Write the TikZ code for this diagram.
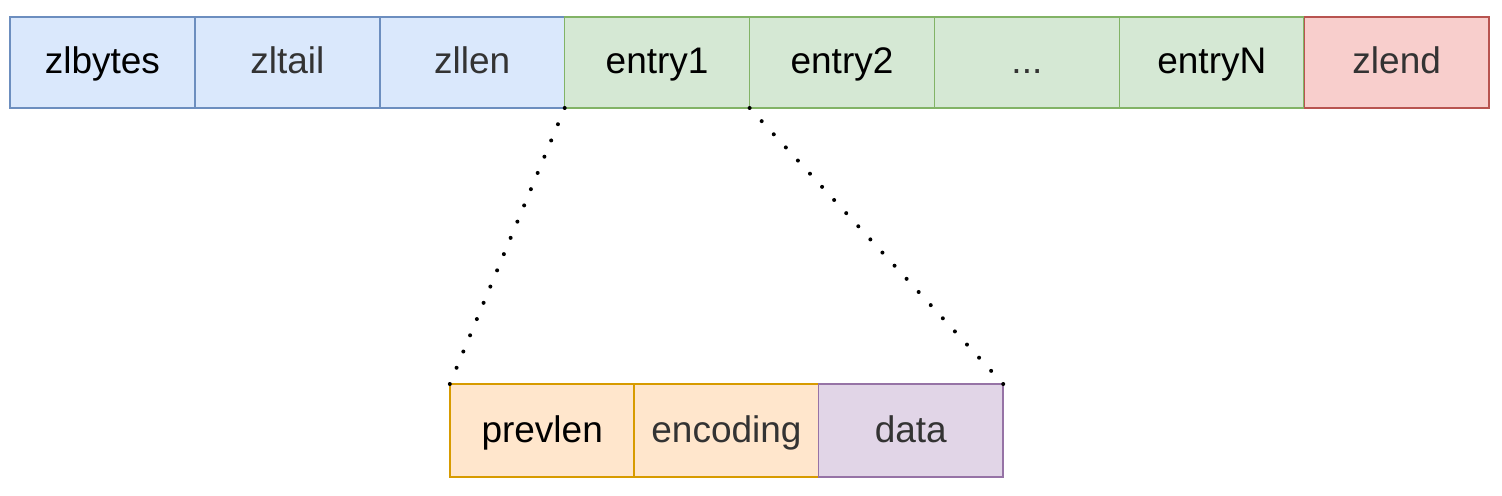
\documentclass[tikz,border=0pt]{standalone}
\usepackage{fontspec}
\setmainfont{Liberation Sans}
\usepackage{tikz}
\usetikzlibrary{calc}
\definecolor{blueF}{HTML}{DAE8FC}
\definecolor{blueD}{HTML}{6C8EBF}
\definecolor{greenF}{HTML}{D5E8D4}
\definecolor{greenD}{HTML}{82B366}
\definecolor{redF}{HTML}{F8CECC}
\definecolor{redD}{HTML}{B85450}
\definecolor{orangeF}{HTML}{FFE6CC}
\definecolor{orangeD}{HTML}{D79B00}
\definecolor{purpleF}{HTML}{E1D5E7}
\definecolor{purpleD}{HTML}{9673A6}
\definecolor{txtgray}{HTML}{333333}

\begin{document}
\begin{tikzpicture}[x=0.5pt, y=-0.5pt,
  field/.style={draw, line width=0.75pt, minimum width=92.4pt, minimum height=45.5pt,
    inner sep=0pt, outer sep=0pt, font=\fontsize{18.5}{20}\selectfont, text height=13pt, text depth=1.5pt},
  hdr/.style={field, fill=blueF, draw=blueD},
  ent/.style={field, fill=greenF, draw=greenD},
  tail/.style={field, fill=redF, draw=redD},
  pre/.style={field, fill=orangeF, draw=orangeD, minimum height=46.5pt},
  dat/.style={field, fill=purpleF, draw=purpleD, minimum height=46.5pt}]
\useasboundingbox (0,0) rectangle (1502,496);
\node [hdr] (zlbytes) at (102.4,62.5) {zlbytes};
\node [hdr, text=txtgray] (zltail) at (287.3,62.5) {zltail};
\node [hdr, text=txtgray] (zllen) at (472.2,62.5) {zllen};
\node [ent] (entry1) at (657.1,62.5) {entry1};
\node [ent] (entry2) at (842.0,62.5) {entry2};
\node [ent, text=txtgray] (dots) at (1026.9,62.5) {...};
\node [ent] (entryN) at (1211.8,62.5) {entryN};
\node [tail, text=txtgray] (zlend) at (1396.7,62.5) {zlend};
\node [pre] (prevlen) at (542.2,430.5) {prevlen};
\node [pre, text=txtgray] (encoding) at (726.5,430.5) {encoding};
\node [dat, text=txtgray] (data) at (910.8,430.5) {data};
% dotted zoom lines
\foreach \t in {0,...,17}
  \fill ($(entry1.south west)!\t/17!(prevlen.north west)$) circle (1pt);
\foreach \t in {0,...,21}
  \fill ($(entry2.south west)!\t/21!(data.north east)$) circle (1pt);
\end{tikzpicture}
\end{document}
